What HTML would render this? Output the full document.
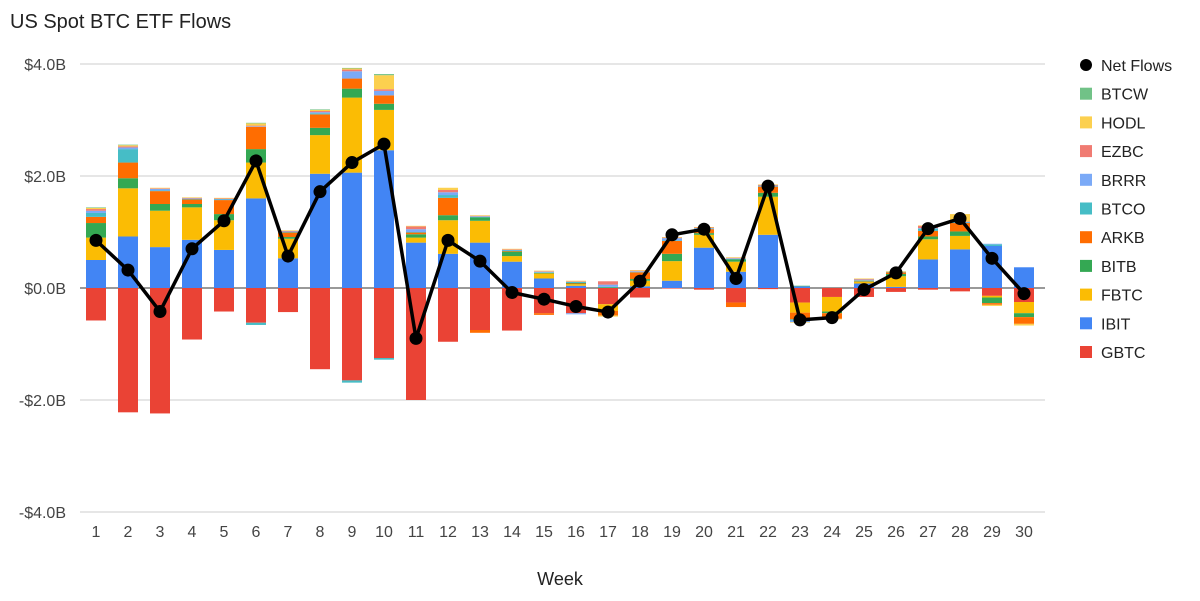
<!DOCTYPE html>
<html><head><meta charset="utf-8"><style>
body{margin:0;background:#fff;font-family:"Liberation Sans",Arial,sans-serif;}
svg text{font-family:"Liberation Sans",Arial,sans-serif;}
</style></head><body>
<svg id="chart" width="1200" height="596" xmlns="http://www.w3.org/2000/svg">
<rect width="1200" height="596" fill="#fff"/>
<text x="10" y="28" font-size="20" fill="#222">US Spot BTC ETF Flows</text>
<g id="grid"></g><g id="bars"></g><g id="line"></g><g id="legend"></g>
<text x="560" y="585" font-size="18" text-anchor="middle" fill="#222">Week</text>
</svg>
<script>
const weeks=[1,2,3,4,5,6,7,8,9,10,11,12,13,14,15,16,17,18,19,20,21,22,23,24,25,26,27,28,29,30];
const GBTC=[-0.58,-2.22,-2.24,-0.92,-0.42,-0.62,-0.43,-1.45,-1.65,-1.25,-2.0,-0.96,-0.75,-0.76,-0.45,-0.45,-0.29,-0.17,-0.01,-0.03,-0.26,-0.02,-0.26,-0.16,-0.16,-0.07,-0.03,-0.06,-0.14,-0.25];
const IBIT=[0.5,0.92,0.73,0.86,0.68,1.6,0.53,2.04,2.06,2.46,0.81,0.61,0.81,0.47,0.17,0.04,0,0.03,0.13,0.72,0.29,0.95,0.03,0,0.08,0.02,0.51,0.69,0.75,0.37];
const FBTC=[0.4,0.86,0.65,0.58,0.53,0.64,0.35,0.69,1.34,0.72,0.09,0.6,0.39,0.1,0.09,0.03,-0.12,0.1,0.35,0.23,0.18,0.68,-0.18,-0.26,0.03,0.19,0.36,0.24,-0.03,-0.2];
const BITB=[0.26,0.18,0.12,0.06,0.11,0.24,0.03,0.13,0.16,0.11,0.06,0.09,0.06,0.08,0.01,0.01,0.01,0.03,0.13,0.03,0.04,0.07,0.01,-0.03,0.01,0.04,0.05,0.08,-0.1,-0.07];
const ARKB=[0.11,0.28,0.23,0.08,0.25,0.4,0.08,0.24,0.18,0.15,0.03,0.31,-0.05,0.01,-0.03,0.01,-0.08,0.12,0.23,0.07,-0.08,0.11,-0.12,-0.1,0.01,0.03,0.1,0.15,-0.03,-0.12];
const BTCO=[0.07,0.24,0.01,0.01,0.01,-0.04,0.01,0.02,-0.04,-0.03,0.01,0.05,0.01,0.01,0.01,0.02,0.01,0.01,0.01,0.01,0.01,0.01,-0.02,0,0.01,0.01,0.04,0.01,0.03,0];
const BRRR=[0.04,0.03,0.03,0.01,0.01,0.01,0.01,0.02,0.13,0.08,0.05,0.05,0.01,0.01,0.01,-0.02,0.04,0.01,0.04,0.01,0.01,0.01,-0.03,0,0.01,0,0.01,0.01,0.01,0];
const EZBC=[0.03,0.02,0.01,0.01,0.01,0.01,0.01,0.02,0.03,0.03,0.05,0.04,0.01,0.01,0.01,0.01,0.06,0.01,0.01,0.01,0.01,0.01,0,0,0.01,0,0.04,0.01,0,0];
const HODL=[0.02,0.02,0.01,0.01,0.01,0.04,0.01,0.02,0.02,0.25,0.01,0.04,0.01,0.01,0.01,0.01,-0.02,0.01,0.01,0.01,0.01,0.01,-0.01,-0.01,0.01,0.01,0.01,0.13,-0.02,-0.03];
const BTCW=[0.01,0.01,0,0,0,0.01,0,0.01,0.01,0.02,0,0,0,0,0,0,0,0,0,0,0,0,0,0,0,0,0,0,0,0];
const NET=[0.85,0.32,-0.42,0.7,1.2,2.27,0.57,1.72,2.24,2.57,-0.9,0.85,0.48,-0.08,-0.2,-0.33,-0.43,0.12,0.95,1.05,0.17,1.82,-0.57,-0.53,-0.03,0.27,1.06,1.24,0.53,-0.1];
const yTicks=[4,2,0,-2,-4];
const yTickLabels=["$4.0B","$2.0B","$0.0B","-$2.0B","-$4.0B"];
const series=[["GBTC",GBTC,"#ea4335"],["IBIT",IBIT,"#4285f4"],["FBTC",FBTC,"#fbbc04"],["BITB",BITB,"#34a853"],["ARKB",ARKB,"#ff6d01"],["BTCO",BTCO,"#46bdc6"],["BRRR",BRRR,"#7baaf7"],["EZBC",EZBC,"#f07b72"],["HODL",HODL,"#fcd04f"],["BTCW",BTCW,"#71c287"]];
const NS="http://www.w3.org/2000/svg";
function yS(v){return 288-v*56;}
function xS(i){return 96+i*32;}
function mk(tag,attrs,parent){const e=document.createElementNS(NS,tag);for(const k in attrs)e.setAttribute(k,attrs[k]);parent.appendChild(e);return e;}
const grid=document.getElementById('grid');
yTicks.forEach((t,i)=>{
 const l=mk('line',{x1:80,x2:1045,y1:yS(t),y2:yS(t),stroke:t===0?'#333':'#ccc','stroke-width':1},grid);
 
 
 const tx=mk('text',{x:66,y:yS(t)+6,'font-size':16,'text-anchor':'end',fill:'#444'},grid);
 tx.textContent=yTickLabels[i];
 
 
});
weeks.forEach((w,i)=>{
 const tx=mk('text',{x:xS(i),y:537,'font-size':16,'text-anchor':'middle',fill:'#444'},grid);
 tx.textContent=w;
 
 
});
const bars=document.getElementById('bars');
weeks.forEach((w,i)=>{
 let pos=0,neg=0;
 series.forEach(s=>{
  const v=s[1][i]; if(!v)return;
  let y0,y1;
  if(v>0){y0=pos;pos+=v;y1=pos;}else{y0=neg;neg+=v;y1=neg;}
  const top=Math.min(yS(y0),yS(y1)),h=Math.abs(yS(y1)-yS(y0));
  const r=mk('rect',{x:xS(i)-10,y:top,width:20,height:h,fill:s[2]},bars);
  
  
 });
});
const lg=document.getElementById('line');
let d='';NET.forEach((v,i)=>{d+=(i?'L':'M')+xS(i)+' '+yS(v);});
const p=mk('path',{d:d,fill:'none',stroke:'#000','stroke-width':3.5,'stroke-linejoin':'round'},lg);


NET.forEach((v,i)=>{
 const c=mk('circle',{cx:xS(i),cy:yS(v),r:6.5,fill:'#000'},lg);
 
 
});
const leg=document.getElementById('legend');
const items=[["Net Flows","#000"]].concat(series.slice().reverse().map(s=>[s[0],s[2]]));
items.forEach((it,k)=>{
 const y=65+k*28.7;
 const g=mk('g',{},leg);
 
 
 if(k===0)mk('circle',{cx:1086,cy:y,r:6,fill:'#000'},g);
 else mk('rect',{x:1080,y:y-6,width:12,height:12,fill:it[1]},g);
 const t=mk('text',{x:1101,y:y+6,'font-size':16,fill:'#222'},g);
 t.textContent=it[0];
});
</script>
</body></html>
